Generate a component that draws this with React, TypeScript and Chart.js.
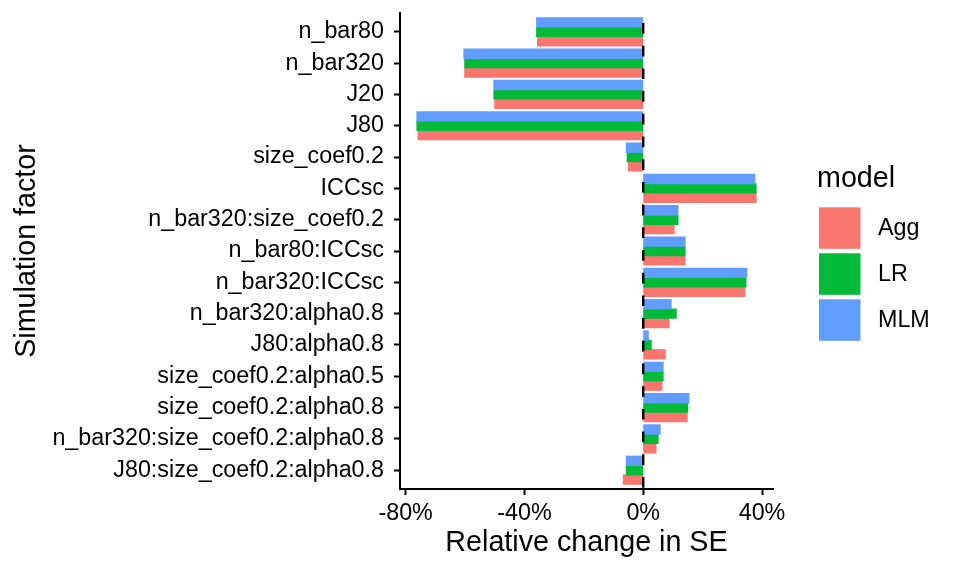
import { useEffect, useRef } from "react";
import { Chart, registerables } from "chart.js";

Chart.register(...registerables);

// simulation factors, top to bottom
const factors = [
  "n_bar80",
  "n_bar320",
  "J20",
  "J80",
  "size_coef0.2",
  "ICCsc",
  "n_bar320:size_coef0.2",
  "n_bar80:ICCsc",
  "n_bar320:ICCsc",
  "n_bar320:alpha0.8",
  "J80:alpha0.8",
  "size_coef0.2:alpha0.5",
  "size_coef0.2:alpha0.8",
  "n_bar320:size_coef0.2:alpha0.8",
  "J80:size_coef0.2:alpha0.8",
];

const models = ["Agg", "LR", "MLM"];
const modelColors = ["#F8766D", "#00BA38", "#619CFF"];

// relative change in SE (%)
const aggChange = [-35.6, -60.1, -50.0, -75.8, -5.0, 38.0, 10.4, 14.1, 34.2, 8.7, 7.4, 6.3, 14.8, 4.3, -6.7];
const lrChange = [-35.9, -60.1, -50.3, -76.2, -5.4, 38.0, 11.7, 14.1, 34.6, 11.1, 2.7, 6.7, 15.0, 5.0, -5.7];
const mlmChange = [-35.9, -60.4, -50.3, -76.2, -5.7, 37.6, 11.7, 14.1, 34.9, 9.4, 1.7, 6.7, 15.4, 5.7, -5.7];

const xTicks = [-80, -40, 0, 40];

const FONT = "'Liberation Sans', Arial, Helvetica, sans-serif";

// dashed line at 0, drawn over the bars
const zeroLine = {
  id: "zeroLine",
  afterDatasetsDraw(chart: any) {
    const { ctx, chartArea } = chart;
    const x = chart.scales.x.getPixelForValue(0);
    ctx.save();
    ctx.strokeStyle = "#000";
    ctx.lineWidth = 2.4;
    ctx.setLineDash([10.7, 12]);
    ctx.lineDashOffset = 12.7;
    ctx.beginPath();
    ctx.moveTo(x, chartArea.top);
    ctx.lineTo(x, chartArea.bottom);
    ctx.stroke();
    ctx.restore();
  },
};

// ggplot-style legend on the right
const modelLegend = {
  id: "modelLegend",
  afterDraw(chart: any) {
    const ctx = chart.ctx;
    ctx.save();
    ctx.fillStyle = "#000";
    ctx.textAlign = "left";
    ctx.textBaseline = "alphabetic";
    ctx.font = `28.7px ${FONT}`;
    ctx.fillText("model", 817, 187);
    ctx.font = `23.3px ${FONT}`;
    ctx.textBaseline = "middle";
    models.forEach((m, i) => {
      const top = 207.3 + i * 46;
      ctx.fillStyle = modelColors[i];
      ctx.fillRect(819, top, 41.5, 41.5);
      ctx.fillStyle = "#000";
      ctx.fillText(m, 878, top + 21);
    });
    ctx.restore();
  },
};

const toPoints = (vals: number[]) => vals.map((v, i) => ({ x: v, y: i }));

export default function App() {
  const canvasRef = useRef<HTMLCanvasElement | null>(null);

  useEffect(() => {
    document.body.style.margin = "0";
    if (!canvasRef.current) return;

    const tickFont = { size: 23.3, family: FONT };
    const titleFont = { size: 28.7, family: FONT };

    const chart = new Chart(canvasRef.current, {
      type: "bar",
      data: {
        // MLM first so it sits on top within each group
        datasets: [
          { label: models[2], data: toPoints(mlmChange), backgroundColor: modelColors[2] },
          { label: models[1], data: toPoints(lrChange), backgroundColor: modelColors[1] },
          { label: models[0], data: toPoints(aggChange), backgroundColor: modelColors[0] },
        ],
      },
      options: {
        indexAxis: "y",
        animation: false,
        responsive: false,
        devicePixelRatio: 1,
        layout: { padding: { top: 13, right: 187, left: 0, bottom: 0 } },
        datasets: { bar: { categoryPercentage: 0.9, barPercentage: 1, inflateAmount: 0.5 } },
        plugins: { legend: { display: false }, tooltip: { enabled: false } },
        scales: {
          x: {
            type: "linear",
            min: -81.9,
            max: 43.7,
            afterBuildTicks: (s: any) => {
              s.ticks = xTicks.map((v) => ({ value: v }));
            },
            afterFit: (s: any) => {
              s.height = 87;
              s.paddingLeft = 0;
              s.paddingRight = 0;
            },
            ticks: {
              callback: (v: any) => v + "%",
              font: tickFont,
              color: "#000",
              padding: 5,
              maxRotation: 0,
            },
            grid: { drawOnChartArea: false, tickLength: 6, tickColor: "#000", tickWidth: 2 },
            border: { color: "#000", width: 2 },
            title: {
              display: true,
              text: "Relative change in SE",
              font: titleFont,
              color: "#000",
              padding: { top: 0, bottom: 15.8 },
            },
          },
          y: {
            type: "linear",
            reverse: true,
            offset: false,
            min: -0.6,
            max: 14.6,
            afterBuildTicks: (s: any) => {
              s.ticks = factors.map((_, i) => ({ value: i }));
            },
            afterFit: (s: any) => {
              s.width = 400;
              s.paddingTop = 0;
              s.paddingBottom = 0;
            },
            ticks: {
              callback: (v: any) => factors[v],
              autoSkip: false,
              font: tickFont,
              color: "#000",
              padding: 10,
            },
            grid: {
              offset: false,
              drawOnChartArea: false,
              tickLength: 6,
              tickColor: "#000",
              tickWidth: 2,
            },
            border: { color: "#000", width: 2 },
            title: {
              display: true,
              text: "Simulation factor",
              font: titleFont,
              color: "#000",
              padding: { top: 9.8, bottom: 0 },
            },
          },
        },
      },
      plugins: [zeroLine, modelLegend],
    } as any);

    return () => {
      chart.destroy();
    };
  }, []);

  return (
    <div style={{ width: 960, height: 576 }}>
      <canvas ref={canvasRef} width={960} height={576}></canvas>
    </div>
  );
}
